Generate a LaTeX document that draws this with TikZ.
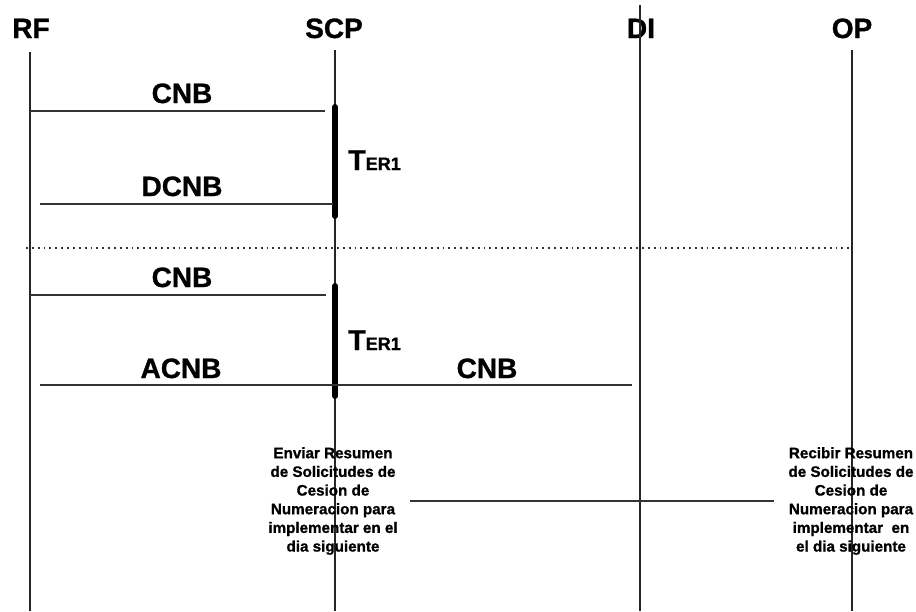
\documentclass[tikz,border=0pt]{standalone}
\usepackage{fontspec}
\setmainfont{Liberation Sans}[BoldFeatures={FakeBold=1}]
\begin{document}
\begin{tikzpicture}[x=0.75pt,y=-0.75pt,
  head/.style={font=\fontsize{21}{25}\selectfont\bfseries, inner sep=0pt, anchor=base},
  msglabel/.style={font=\fontsize{21}{25}\selectfont\bfseries, inner sep=0pt, anchor=base},
  lifeline/.style={draw=black!85, line width=1pt},
  msg/.style={draw=black!80, line width=1.1pt},
  actbar/.style={draw=black, line width=4.5pt, line cap=round},
  sep/.style={draw=black!80, line width=1.4pt, dash pattern=on 1.4pt off 3pt},
  timer/.style={inner sep=0pt, anchor=base west, font=\bfseries},
  note/.style={font=\fontsize{11.4}{14}\selectfont\bfseries, align=center, inner sep=5pt}
]
\useasboundingbox (0,0) rectangle (916,611);

% headings
\node[head] (rf)  at (31,38)  {RF};
\node[head] (scp) at (334,38) {SCP};
\node[head] (di)  at (641,38) {DI};
\node[head] (op)  at (852,38) {OP};

% lifeline ends
\coordinate (rfT)  at (30,52);  \coordinate (rfB)  at (30,611);
\coordinate (scpT) at (335,50); \coordinate (scpB) at (335,611);
\coordinate (diT)  at (640,5);  \coordinate (diB)  at (640,611);
\coordinate (opT)  at (852,50); \coordinate (opB)  at (852,611);
\draw[lifeline] (rfT) -- (rfB);
\draw[lifeline] (scpT) -- (scpB);
\draw[lifeline] (diT) -- (diB);
\draw[lifeline] (opT) -- (opB);

% activation bars
\coordinate (a1T) at (335,107); \coordinate (a1B) at (335,216);
\coordinate (a2T) at (335,286); \coordinate (a2B) at (335,396);
\draw[actbar] (a1T) -- (a1B);
\draw[actbar] (a2T) -- (a2B);

% timers
\node[timer] (t1) at (348,170) {{\fontsize{21.5}{25}\selectfont T}{\fontsize{13.5}{16}\selectfont ER1}};
\node[timer] (t2) at (348,350) {{\fontsize{21.5}{25}\selectfont T}{\fontsize{13.5}{16}\selectfont ER1}};

% messages
\coordinate (m1s) at (30,111);  \coordinate (m1e) at (325,111);
\coordinate (m2s) at (40,204);  \coordinate (m2e) at (333,204);
\coordinate (m3s) at (30,295);  \coordinate (m3e) at (326,295);
\coordinate (m4s) at (40,385);  \coordinate (m4e) at (632,385);
\draw[msg] (m1s) -- (m1e);
\draw[msg] (m2s) -- (m2e);
\draw[msg] (m3s) -- (m3e);
\draw[msg] (m4s) -- (m4e);
\node[msglabel] (l1) at (182,103) {CNB};
\node[msglabel] (l2) at (182,196) {DCNB};
\node[msglabel] (l3) at (182,287) {CNB};
\node[msglabel] (l4) at (181,378) {ACNB};
\node[msglabel] (l5) at (487,378) {CNB};

% separator
\coordinate (sepL) at (26,248); \coordinate (sepR) at (850,248);
\draw[sep] (sepL) -- (sepR);

% notes
\node[note] (ltext) at (333,501) {Enviar Resumen\\de Solicitudes de\\Cesion de\\Numeracion para\\implementar en el\\dia siguiente};
\node[note] (rtext) at (851,501) {Recibir Resumen\\de Solicitudes de\\Cesion de\\Numeracion para\\implementar\ \ en\\el dia siguiente};
\draw[msg] ([xshift=4pt]ltext.east) -- ([xshift=-6pt]rtext.west);
\end{tikzpicture}
\end{document}
